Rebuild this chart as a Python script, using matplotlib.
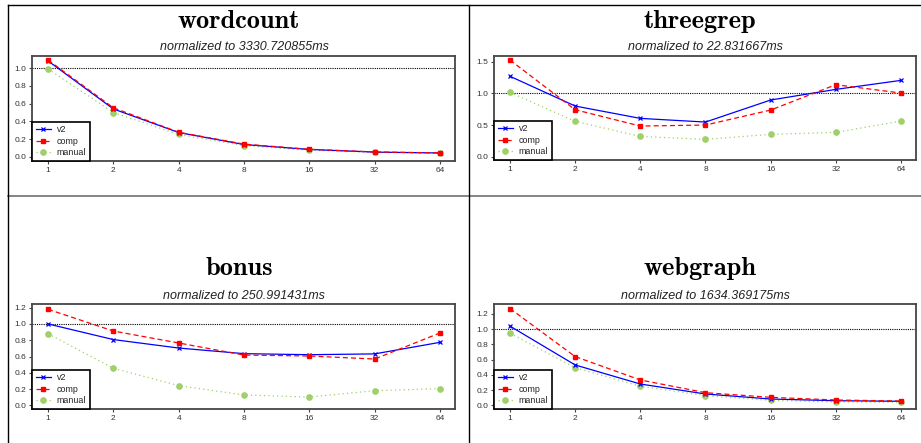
import matplotlib
matplotlib.use('Agg')
import matplotlib.pyplot as plt
from matplotlib.lines import Line2D
import numpy as np

W, H = 921, 443

threads = ['1', '2', '4', '8', '16', '32', '64']

wordcount_v2 = [1.08, 0.54, 0.275, 0.14, 0.085, 0.055, 0.045]
wordcount_comp = [1.09, 0.553, 0.278, 0.145, 0.087, 0.057, 0.046]
wordcount_manual = [0.99, 0.50, 0.253, 0.128, 0.076, 0.052, 0.045]

threegrep_v2 = [1.27, 0.80, 0.605, 0.547, 0.895, 1.063, 1.205]
threegrep_comp = [1.526, 0.742, 0.484, 0.50, 0.737, 1.137, 1.005]
threegrep_manual = [1.016, 0.558, 0.32, 0.274, 0.353, 0.384, 0.563]

bonus_v2 = [1.0, 0.808, 0.704, 0.635, 0.622, 0.632, 0.774]
bonus_comp = [1.18, 0.913, 0.766, 0.618, 0.606, 0.569, 0.889]
bonus_manual = [0.88, 0.455, 0.242, 0.127, 0.102, 0.180, 0.205]

webgraph_v2 = [1.04, 0.53, 0.28, 0.149, 0.083, 0.061, 0.053]
webgraph_comp = [1.27, 0.64, 0.333, 0.166, 0.105, 0.07, 0.057]
webgraph_manual = [0.946, 0.495, 0.25, 0.127, 0.066, 0.044, 0.04]

names = ['wordcount', 'threegrep', 'bonus', 'webgraph']
norms = ['3330.720855', '22.831667', '250.991431', '1634.369175']
series = {
    'wordcount': (wordcount_v2, wordcount_comp, wordcount_manual),
    'threegrep': (threegrep_v2, threegrep_comp, threegrep_manual),
    'bonus': (bonus_v2, bonus_comp, bonus_manual),
    'webgraph': (webgraph_v2, webgraph_comp, webgraph_manual),
}

# panel layout in pixels: axes box (left, right, top, bottom), ylim, yticks, title center/baselines
panels = {
    'wordcount': dict(box=(32, 455, 56, 161), ylim=(-0.045, 1.135), yt=np.arange(0, 1.01, 0.2),
                      tx=239, ty=28, sx=244, sy=50),
    'threegrep': dict(box=(494, 916, 56, 160), ylim=(-0.052, 1.59), yt=np.arange(0, 1.51, 0.5),
                      tx=700, ty=28, sx=705, sy=50),
    'bonus': dict(box=(32, 455, 304, 409), ylim=(-0.045, 1.245), yt=np.arange(0, 1.21, 0.2),
                  tx=239, ty=275, sx=244, sy=299),
    'webgraph': dict(box=(494, 916, 304, 409), ylim=(-0.048, 1.33), yt=np.arange(0, 1.21, 0.2),
                     tx=700, ty=275, sx=705, sy=299),
}

blue = '#0000ff'
red = '#ff0000'
green = '#9fd06a'
frame = '#454545'

fig = plt.figure(figsize=(W / 100, H / 100), dpi=100)

for i, name in enumerate(names):
    p = panels[name]
    l, r, t, b = p['box']
    ax = fig.add_axes([l / W, (H - b) / H, (r - l) / W, (b - t) / H])
    x = np.arange(len(threads))
    v2, comp, manual = series[name]
    ax.axhline(1.0, color='black', lw=0.8, ls=(0, (1, 1)), zorder=1)
    ax.plot(x, v2, color=blue, lw=0.9, marker='x', ms=3.5, mew=0.9, label='v2', zorder=3)
    ax.plot(x, comp, color=red, lw=0.9, ls=(0, (4, 2.5)), marker='s', ms=3.2, label='comp', zorder=4)
    ax.plot(x, manual, color=green, lw=0.9, ls=(0, (1, 2.5)), marker='o', ms=3.8, label='manual', zorder=2)
    ax.set_xlim(-0.245, 6.23)
    ax.set_ylim(*p['ylim'])
    ax.set_xticks(x)
    ax.set_xticklabels(threads)
    ax.set_yticks(p['yt'])
    ax.set_yticklabels(['%.1f' % v for v in p['yt']])
    for s in ax.spines.values():
        s.set_color(frame)
        s.set_linewidth(1.3)
    ax.tick_params(direction='out', length=2.5, width=0.8, color=frame, labelsize=6,
                   labelcolor='#333333', pad=1.5)
    for lab in ax.get_xticklabels() + ax.get_yticklabels():
        lab.set_family('Liberation Sans')
    leg = ax.legend(loc='lower left', borderaxespad=0, handlelength=1.7,
                    handletextpad=0.7, labelspacing=0.3, borderpad=0.4, fancybox=False,
                    framealpha=1, prop={'family': 'Liberation Sans', 'size': 6.4})
    leg.get_frame().set_edgecolor('black')
    leg.get_frame().set_linewidth(1.2)
    for txt in leg.get_texts():
        txt.set_color('#222222')

    fig.text(p['tx'] / W, 1 - p['ty'] / H, name, ha='center', va='baseline',
             family='cmb10', fontsize=19)
    fig.text(p['sx'] / W, 1 - p['sy'] / H, 'normalized to %sms' % norms[i],
             ha='center', va='baseline', family='Liberation Sans', style='italic', fontsize=9,
             color='#222222')

# table cell borders
def hline(y, x0, x1, color='black', lw=1.0):
    fig.add_artist(Line2D([x0 / W, x1 / W], [1 - y / H, 1 - y / H], color=color, lw=lw))

def vline(x, y0, y1, color='black', lw=1.0):
    fig.add_artist(Line2D([x / W, x / W], [1 - y0 / H, 1 - y1 / H], color=color, lw=lw))

hline(5, 8, W)
hline(195.5, 8, W, color='#707070', lw=1.2)
vline(8, 5, H)
vline(469, 5, H)

fig.savefig('out.png', dpi=100)
